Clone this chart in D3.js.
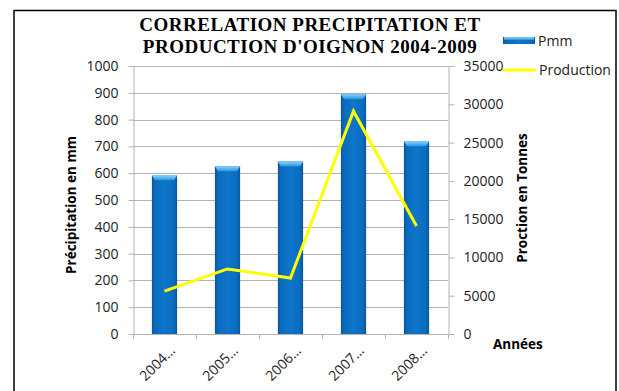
<!DOCTYPE html>
<html>
<head>
<meta charset="utf-8">
<script src="https://cdn.jsdelivr.net/npm/d3@7"></script>
<style>
  html, body { margin: 0; padding: 0; background: #fff; }
  svg { display: block; }
  .tick text { font-family: "Open Sans", Lato, sans-serif; font-size: 14px; fill: #222; }
</style>
</head>
<body>
<svg id="chart" width="619" height="391"></svg>
<script>
// Data
const years = ["2004…", "2005…", "2006…", "2007…", "2008…"];
const pmm = [592, 626, 644, 895, 719];
const production = [5600, 8500, 7300, 29100, 14100];
const leftTicks = [0, 100, 200, 300, 400, 500, 600, 700, 800, 900, 1000];
const rightTicks = [0, 5000, 10000, 15000, 20000, 25000, 30000, 35000];
const titleLines = ["CORRELATION PRECIPITATION ET", "PRODUCTION D'OIGNON 2004-2009"];

const svg = d3.select("#chart");
const sans = "'Open Sans', Lato, sans-serif";

// Plot area
const plot = { left: 133, right: 448, top: 66, bottom: 334 };

const x = d3.scaleBand().domain(years)
  .range([plot.left, plot.right]).paddingInner(0.6).paddingOuter(0.3);
const yL = d3.scaleLinear().domain([0, 1000]).range([plot.bottom, plot.top]);
const yR = d3.scaleLinear().domain([0, 35000]).range([plot.bottom, plot.top]);

// Outer frame
svg.append("rect").attr("x", 14).attr("y", 10.5).attr("width", 602).attr("height", 400)
  .attr("fill", "#fff").attr("stroke", "#000").attr("stroke-width", 1.5);

// Gradients for the bars
const defs = svg.append("defs");
const gBody = defs.append("linearGradient").attr("id", "barBody")
  .attr("x1", "0%").attr("x2", "100%").attr("y1", "0%").attr("y2", "0%");
[["0%", "#0b5597"], ["12%", "#0a6bbd"], ["50%", "#0d76cb"], ["88%", "#0a6bbd"], ["100%", "#0b5597"]]
  .forEach(([o, c]) => gBody.append("stop").attr("offset", o).attr("stop-color", c));
const gTop = defs.append("linearGradient").attr("id", "barTop")
  .attr("x1", "0%").attr("x2", "0%").attr("y1", "0%").attr("y2", "100%");
[["0%", "#8ad6fc"], ["100%", "#2a93e0"]]
  .forEach(([o, c]) => gTop.append("stop").attr("offset", o).attr("stop-color", c));

// Horizontal gridlines
svg.append("g").selectAll("line").data(leftTicks).join("line")
  .attr("x1", plot.left).attr("x2", plot.right)
  .attr("y1", d => Math.round(yL(d)) + 0.5).attr("y2", d => Math.round(yL(d)) + 0.5)
  .attr("stroke", "#b3b3b3").attr("stroke-width", 1);

// Left axis
const axL = svg.append("g").attr("transform", `translate(${plot.left + 0.5},0)`)
  .call(d3.axisLeft(yL).tickValues(leftTicks).tickFormat(d3.format("d"))
    .tickSize(5).tickPadding(10).tickSizeOuter(0));
axL.selectAll("path, line").attr("stroke", "#b3b3b3");

// Right axis
const axR = svg.append("g").attr("transform", `translate(${plot.right + 0.5},0)`)
  .call(d3.axisRight(yR).tickValues(rightTicks).tickFormat(d3.format("d"))
    .tickSize(6).tickPadding(9).tickSizeOuter(0));
axR.selectAll("path, line").attr("stroke", "#b3b3b3");

// Bottom axis: boundary ticks
const gap = x.step() - x.bandwidth();
const bounds = years.map(d => x(d) - gap / 2).concat([plot.right]);
svg.append("g").selectAll("line").data(bounds).join("line")
  .attr("x1", d => Math.round(d) + 0.5).attr("x2", d => Math.round(d) + 0.5)
  .attr("y1", plot.bottom).attr("y2", plot.bottom + 5)
  .attr("stroke", "#b3b3b3");

// Bars
const bars = svg.append("g");
years.forEach((yr, i) => {
  const bx = x(yr), bw = x.bandwidth(), by = yL(pmm[i]);
  bars.append("rect").attr("x", bx).attr("y", by).attr("width", bw)
    .attr("height", plot.bottom - by).attr("fill", "url(#barBody)");
  bars.append("path")
    .attr("d", `M${bx},${by} L${bx + bw},${by} L${bx + bw - 3},${by + 5} L${bx + 3},${by + 5} Z`)
    .attr("fill", "url(#barTop)");
});

svg.append("line").attr("x1", plot.left).attr("x2", plot.right)
  .attr("y1", plot.bottom + 0.5).attr("y2", plot.bottom + 0.5).attr("stroke", "#b3b3b3");

// Production line
const line = d3.line().x((d, i) => x(years[i]) + x.bandwidth() / 2).y(d => yR(d));
svg.append("path").datum(production).attr("d", line)
  .attr("fill", "none").attr("stroke", "#ffff00").attr("stroke-width", 3)
  .attr("stroke-linejoin", "miter");

// Category labels
svg.append("g").selectAll("text").data(years).join("text")
  .attr("transform", d => `translate(${x(d) + x.bandwidth() / 2 + 8},${plot.bottom + 14}) rotate(-45)`)
  .attr("text-anchor", "end").attr("dy", "0.35em")
  .attr("font-family", sans).attr("font-size", 14).attr("fill", "#222")
  .text(d => d);

// Axis titles
svg.append("text").attr("transform", "translate(76,205) rotate(-90)")
  .attr("text-anchor", "middle").attr("font-family", sans).attr("font-weight", "bold")
  .attr("font-size", 13.5).attr("fill", "#000").text("Précipitation en mm");
svg.append("text").attr("transform", "translate(527,198) rotate(-90)")
  .attr("text-anchor", "middle").attr("font-family", sans).attr("font-weight", "bold")
  .attr("font-size", 13.5).attr("fill", "#000").text("Proction en Tonnes");
svg.append("text").attr("x", 493).attr("y", 349)
  .attr("font-family", sans).attr("font-weight", "bold")
  .attr("font-size", 13.5).attr("fill", "#000").text("Années");

// Title
svg.append("g").selectAll("text").data(titleLines).join("text")
  .attr("x", 310).attr("y", (d, i) => 31 + i * 21.5)
  .attr("text-anchor", "middle")
  .attr("font-family", "'Liberation Serif', 'DejaVu Serif', serif")
  .attr("font-weight", "bold").attr("font-size", 19).attr("letter-spacing", 0.5)
  .attr("fill", "#000")
  .text(d => d);

// Legend
const lg = svg.append("g");
lg.append("rect").attr("x", 503).attr("y", 37).attr("width", 32).attr("height", 7)
  .attr("fill", "url(#barBody)");
lg.append("rect").attr("x", 504).attr("y", 37).attr("width", 30).attr("height", 3)
  .attr("fill", "url(#barTop)");
lg.append("text").attr("x", 538).attr("y", 46)
  .attr("font-family", sans).attr("font-size", 14).attr("fill", "#222").text("Pmm");
lg.append("line").attr("x1", 503).attr("x2", 536).attr("y1", 70).attr("y2", 70)
  .attr("stroke", "#ffff00").attr("stroke-width", 3);
lg.append("text").attr("x", 539).attr("y", 75)
  .attr("font-family", sans).attr("font-size", 14).attr("fill", "#222").text("Production");
</script>
</body>
</html>
